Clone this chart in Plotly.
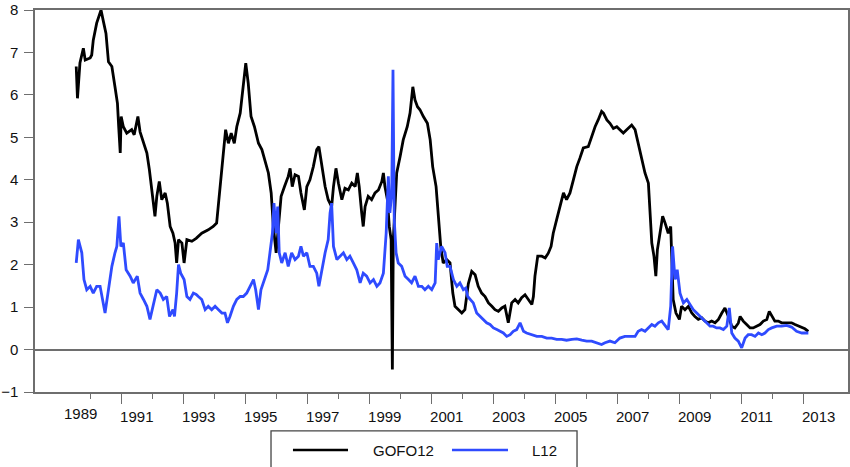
import plotly.graph_objects as go

# decimal years
gofo_t = [1989.53, 1989.57, 1989.65, 1989.76, 1989.82, 1989.98, 1990.03, 1990.08, 1990.19, 1990.28,
          1990.33, 1990.41, 1990.49, 1990.57, 1990.68, 1990.78, 1990.86, 1990.90, 1990.95, 1990.98,
          1991.05, 1991.16, 1991.32, 1991.40, 1991.52, 1991.59, 1991.70, 1991.81, 1991.89, 1991.97,
          1992.02, 1992.07, 1992.13, 1992.21, 1992.29, 1992.40, 1992.47, 1992.56, 1992.65, 1992.72,
          1992.77, 1992.83, 1992.94, 1993.01, 1993.10, 1993.26, 1993.40, 1993.58, 1993.79, 1993.95,
          1994.06, 1994.17, 1994.28, 1994.35, 1994.44, 1994.53, 1994.63, 1994.71, 1994.82, 1994.92,
          1995.00, 1995.08, 1995.17, 1995.28, 1995.41, 1995.52, 1995.62, 1995.73, 1995.82, 1995.89,
          1995.98, 1996.05, 1996.14, 1996.25, 1996.37, 1996.43, 1996.50, 1996.59, 1996.70, 1996.78,
          1996.89, 1996.97, 1997.07, 1997.18, 1997.29, 1997.36, 1997.45, 1997.56, 1997.66, 1997.77,
          1997.83, 1997.91, 1997.99, 1998.10, 1998.20, 1998.31, 1998.42, 1998.53, 1998.60, 1998.66,
          1998.74, 1998.79, 1998.85, 1998.95, 1999.06, 1999.17, 1999.28, 1999.39, 1999.44, 1999.49,
          1999.57, 1999.63, 1999.69, 1999.73, 1999.76, 1999.82, 1999.87, 1999.98, 2000.08, 2000.21,
          2000.30, 2000.39, 2000.46, 2000.54, 2000.62, 2000.73, 2000.86, 2000.95, 2001.03, 2001.14,
          2001.21, 2001.29, 2001.37, 2001.48, 2001.59, 2001.68, 2001.75, 2001.86, 2001.97, 2002.07,
          2002.18, 2002.29, 2002.40, 2002.50, 2002.61, 2002.72, 2002.83, 2002.94, 2003.04, 2003.15,
          2003.26, 2003.36, 2003.47, 2003.58, 2003.69, 2003.79, 2003.90, 2004.01, 2004.12, 2004.23,
          2004.28, 2004.33, 2004.42, 2004.55, 2004.66, 2004.76, 2004.85, 2004.92, 2005.03, 2005.14,
          2005.25, 2005.35, 2005.46, 2005.57, 2005.68, 2005.78, 2005.89, 2006.05, 2006.16, 2006.27,
          2006.37, 2006.48, 2006.54, 2006.65, 2006.75, 2006.86, 2006.97, 2007.07, 2007.18, 2007.29,
          2007.45, 2007.56, 2007.66, 2007.77, 2007.88, 2007.99, 2008.04, 2008.10, 2008.17, 2008.23,
          2008.28, 2008.36, 2008.45, 2008.53, 2008.63, 2008.71, 2008.74, 2008.79, 2008.88, 2008.99,
          2009.06, 2009.17, 2009.28, 2009.39, 2009.49, 2009.60, 2009.71, 2009.82, 2009.92, 2010.03,
          2010.14, 2010.25, 2010.36, 2010.46, 2010.57, 2010.68, 2010.78, 2010.89, 2010.95, 2011.05,
          2011.16, 2011.27, 2011.37, 2011.48, 2011.59, 2011.70, 2011.81, 2011.89, 2011.97, 2012.07,
          2012.18, 2012.29, 2012.40, 2012.50, 2012.61, 2012.72, 2012.83, 2012.94, 2013.04, 2013.15]
gofo12 = [6.67, 5.92, 6.75, 7.10, 6.82, 6.87, 6.94, 7.29, 7.69, 7.92,
          8.00, 7.72, 7.45, 6.78, 6.67, 6.19, 5.80, 5.25, 4.63, 5.49,
          5.25, 5.10, 5.18, 5.06, 5.49, 5.13, 4.86, 4.63, 4.24, 3.76,
          3.37, 3.14, 3.61, 3.96, 3.53, 3.69, 3.45, 2.90, 2.74, 2.51,
          2.04, 2.59, 2.51, 2.04, 2.59, 2.55, 2.62, 2.74, 2.82, 2.90,
          2.98, 3.84, 4.63, 5.18, 4.86, 5.10, 4.86, 5.25, 5.57, 6.19,
          6.75, 6.27, 5.49, 5.25, 4.86, 4.71, 4.47, 4.16, 3.69, 2.90,
          2.28, 2.82, 3.61, 3.84, 4.08, 4.27, 3.84, 4.12, 4.08, 3.69,
          3.29, 3.84, 4.00, 4.31, 4.71, 4.78, 4.31, 3.84, 3.53, 3.37,
          3.84, 4.27, 3.92, 3.53, 3.80, 3.76, 3.92, 3.84, 4.16, 3.84,
          3.22, 2.90, 3.37, 3.61, 3.53, 3.69, 3.76, 3.96, 4.16, 3.84,
          3.53, 2.90, 2.59, -0.47, 2.59, 3.53, 4.16, 4.55, 4.94, 5.25,
          5.57, 6.19, 5.88, 5.72, 5.65, 5.49, 5.33, 4.94, 4.31, 3.84,
          3.14, 2.43, 2.04, 2.12, 2.04, 1.33, 1.02, 0.94, 0.86, 0.94,
          1.55, 1.84, 1.76, 1.49, 1.33, 1.25, 1.10, 1.02, 0.94, 0.90,
          0.98, 1.02, 0.63, 1.10, 1.18, 1.10, 1.22, 1.29, 1.18, 1.06,
          1.25, 1.73, 2.20, 2.20, 2.16, 2.27, 2.43, 2.74, 3.06, 3.37,
          3.69, 3.53, 3.69, 4.00, 4.31, 4.51, 4.75, 4.78, 5.02, 5.25,
          5.41, 5.61, 5.57, 5.41, 5.33, 5.21, 5.25, 5.18, 5.10, 5.18,
          5.29, 5.18, 4.86, 4.55, 4.16, 3.92, 3.37, 2.51, 2.20, 1.73,
          2.35, 2.74, 3.14, 2.98, 2.74, 2.90, 2.04, 1.18, 0.86, 0.71,
          1.02, 0.94, 1.02, 0.86, 0.78, 0.71, 0.75, 0.67, 0.63, 0.67,
          0.63, 0.71, 0.86, 0.98, 0.78, 0.55, 0.51, 0.62, 0.78, 0.67,
          0.59, 0.51, 0.51, 0.55, 0.59, 0.67, 0.71, 0.90, 0.78, 0.67,
          0.67, 0.63, 0.63, 0.63, 0.63, 0.59, 0.55, 0.51, 0.49, 0.43]

l12_t = [1989.53, 1989.60, 1989.71, 1989.78, 1989.87, 1989.98, 1990.08, 1990.19, 1990.30, 1990.39,
         1990.46, 1990.57, 1990.68, 1990.78, 1990.84, 1990.91, 1990.97, 1991.05, 1991.14, 1991.27,
         1991.37, 1991.50, 1991.59, 1991.70, 1991.81, 1991.91, 1992.02, 1992.13, 1992.24, 1992.34,
         1992.45, 1992.54, 1992.65, 1992.70, 1992.77, 1992.83, 1992.90, 1993.01, 1993.10, 1993.20,
         1993.31, 1993.40, 1993.47, 1993.58, 1993.69, 1993.79, 1993.90, 1994.01, 1994.12, 1994.23,
         1994.33, 1994.41, 1994.49, 1994.60, 1994.71, 1994.82, 1994.92, 1995.03, 1995.14, 1995.25,
         1995.32, 1995.41, 1995.49, 1995.60, 1995.71, 1995.78, 1995.86, 1995.91, 1995.98, 1996.03,
         1996.08, 1996.16, 1996.27, 1996.37, 1996.48, 1996.59, 1996.70, 1996.78, 1996.86, 1996.97,
         1997.07, 1997.18, 1997.29, 1997.36, 1997.45, 1997.56, 1997.66, 1997.72, 1997.77, 1997.83,
         1997.94, 1998.04, 1998.15, 1998.26, 1998.36, 1998.47, 1998.58, 1998.69, 1998.79, 1998.90,
         1999.01, 1999.12, 1999.23, 1999.33, 1999.44, 1999.53, 1999.60, 1999.65, 1999.71, 1999.75,
         1999.79, 1999.85, 1999.92, 2000.03, 2000.14, 2000.25, 2000.35, 2000.46, 2000.57, 2000.68,
         2000.78, 2000.89, 2001.00, 2001.11, 2001.16, 2001.21, 2001.32, 2001.43, 2001.50, 2001.59,
         2001.70, 2001.81, 2001.91, 2002.02, 2002.10, 2002.16, 2002.24, 2002.34, 2002.45, 2002.56,
         2002.66, 2002.77, 2002.88, 2002.99, 2003.10, 2003.20, 2003.31, 2003.42, 2003.53, 2003.63,
         2003.74, 2003.85, 2003.96, 2004.06, 2004.23, 2004.39, 2004.55, 2004.71, 2004.87, 2005.03,
         2005.19, 2005.35, 2005.52, 2005.68, 2005.84, 2006.00, 2006.16, 2006.32, 2006.48, 2006.59,
         2006.75, 2006.91, 2007.07, 2007.23, 2007.39, 2007.56, 2007.66, 2007.77, 2007.88, 2007.99,
         2008.10, 2008.20, 2008.31, 2008.42, 2008.53, 2008.63, 2008.71, 2008.77, 2008.85, 2008.92,
         2009.01, 2009.12, 2009.23, 2009.33, 2009.44, 2009.55, 2009.66, 2009.76, 2009.87, 2009.98,
         2010.08, 2010.19, 2010.30, 2010.41, 2010.52, 2010.60, 2010.68, 2010.78, 2010.89, 2011.00,
         2011.11, 2011.21, 2011.32, 2011.43, 2011.54, 2011.65, 2011.75, 2011.86, 2011.97, 2012.13,
         2012.29, 2012.45, 2012.61, 2012.77, 2012.94, 2013.10, 2013.15]
l12 = [2.04, 2.59, 2.28, 1.65, 1.41, 1.49, 1.33, 1.49, 1.49, 1.10,
       0.86, 1.41, 1.96, 2.28, 2.43, 3.14, 2.43, 2.51, 1.88, 1.73,
       1.57, 1.73, 1.33, 1.18, 1.02, 0.71, 1.10, 1.41, 1.33, 1.18,
       1.25, 0.78, 0.94, 0.78, 1.33, 2.00, 1.80, 1.65, 1.25, 1.18,
       1.33, 1.30, 1.25, 1.18, 0.94, 1.02, 0.94, 1.02, 0.94, 0.86,
       0.86, 0.63, 0.78, 1.02, 1.18, 1.25, 1.25, 1.33, 1.49, 1.65,
       1.41, 0.94, 1.41, 1.65, 1.88, 2.28, 2.74, 3.45, 2.74, 3.37,
       2.28, 2.04, 2.28, 1.96, 2.28, 2.12, 2.20, 2.43, 2.20, 2.28,
       1.96, 1.96, 1.80, 1.49, 1.88, 2.28, 2.59, 3.22, 3.45, 2.43,
       2.12, 2.20, 2.28, 2.12, 2.20, 2.04, 1.88, 1.57, 1.80, 1.73,
       1.57, 1.65, 1.49, 1.57, 1.80, 2.74, 4.08, 3.22, 3.69, 6.59,
       3.06, 2.28, 2.04, 1.96, 1.73, 1.65, 1.57, 1.73, 1.49, 1.49,
       1.41, 1.49, 1.41, 1.57, 2.51, 2.12, 2.43, 2.28, 1.96, 1.96,
       1.65, 1.49, 1.57, 1.41, 1.45, 1.25, 1.18, 1.10, 0.86, 0.78,
       0.71, 0.63, 0.59, 0.51, 0.47, 0.43, 0.39, 0.31, 0.35, 0.43,
       0.47, 0.63, 0.43, 0.39, 0.35, 0.31, 0.31, 0.27, 0.27, 0.24,
       0.24, 0.22, 0.24, 0.25, 0.22, 0.20, 0.20, 0.16, 0.12, 0.16,
       0.20, 0.16, 0.27, 0.31, 0.31, 0.31, 0.43, 0.47, 0.43, 0.51,
       0.59, 0.55, 0.63, 0.67, 0.55, 0.47, 1.02, 2.43, 1.65, 1.88,
       1.33, 1.10, 1.18, 1.06, 0.94, 0.86, 0.78, 0.71, 0.63, 0.55,
       0.55, 0.51, 0.51, 0.47, 0.55, 0.98, 0.39, 0.27, 0.20, 0.04,
       0.27, 0.35, 0.35, 0.31, 0.39, 0.35, 0.39, 0.47, 0.51, 0.55,
       0.55, 0.57, 0.53, 0.43, 0.39, 0.38, 0.39]

label_years = [1991, 1993, 1995, 1997, 1999, 2001, 2003, 2005, 2007, 2009, 2011, 2013]
minor_years = [1990, 1992, 1994, 1996, 1998, 2000, 2002, 2004, 2006, 2008, 2010, 2012]

fnt = dict(family="Liberation Sans, Arial, sans-serif", size=15, color="#111")
axis_col = "#6e6e6e"
series = [("GOFO12", "#000000"), ("L12", "#2f4bff")]

fig = go.Figure()
fig.add_trace(go.Scatter(x=gofo_t, y=gofo12, name="GOFO12", mode="lines",
                         line=dict(color=series[0][1], width=2.8), showlegend=False))
fig.add_trace(go.Scatter(x=l12_t, y=l12, name="L12", mode="lines",
                         line=dict(color=series[1][1], width=2.8), showlegend=False))

# first year label sits before the first tick
fig.add_annotation(x=1989.67, y=0, xref="x", yref="paper", yanchor="top", yshift=-11,
                   text="1989", showarrow=False, font=fnt)

# boxed legend below the plot, long line samples like the original
fig.add_shape(type="rect", xref="paper", yref="paper", x0=0.2903, x1=0.6667, y0=-0.102, y1=-0.215,
              line=dict(color="#444", width=1.3), fillcolor="white")
leg_x = [(0.3173, 0.3850, 0.4133), (0.5129, 0.5818, 0.6089)]
for (name, col), (lx0, lx1, tx) in zip(series, leg_x):
    fig.add_shape(type="line", xref="paper", yref="paper", x0=lx0, x1=lx1, y0=-0.152, y1=-0.152,
                  line=dict(color=col, width=2.5))
    fig.add_annotation(x=tx, y=-0.152, xref="paper", yref="paper", xanchor="left",
                       yanchor="middle", text=name, showarrow=False, font=fnt)

fig.update_layout(
    width=850, height=467, autosize=False,
    margin=dict(l=35, r=2, t=10, b=75),
    plot_bgcolor="white", paper_bgcolor="white",
    font=fnt,
)
fig.update_xaxes(range=[1988.2, 2014.43], showgrid=False, zeroline=False, automargin=False,
                 showline=True, linecolor=axis_col, linewidth=1.5, mirror=True,
                 tickmode="array", tickvals=label_years, ticktext=[str(v) for v in label_years],
                 ticks="outside", ticklen=10, tickcolor=axis_col, tickwidth=1.3,
                 ticklabelshift=15,
                 minor=dict(tickmode="array", tickvals=minor_years, ticks="outside",
                            ticklen=5, tickcolor=axis_col, tickwidth=1.3))
fig.update_yaxes(range=[-1, 8], dtick=1, tick0=0, showgrid=False, automargin=False,
                 zeroline=True, zerolinecolor=axis_col, zerolinewidth=1.5,
                 showline=True, linecolor=axis_col, linewidth=1.5, mirror=True,
                 ticks="outside", ticklen=9, tickcolor=axis_col, tickwidth=1.3,
                 ticklabelstandoff=3)

# the page's default body margin would push the 850x467 figure off the window
fig.write_html("out.html", config={"displayModeBar": False},
               post_script="document.body.style.margin = '0px';")
